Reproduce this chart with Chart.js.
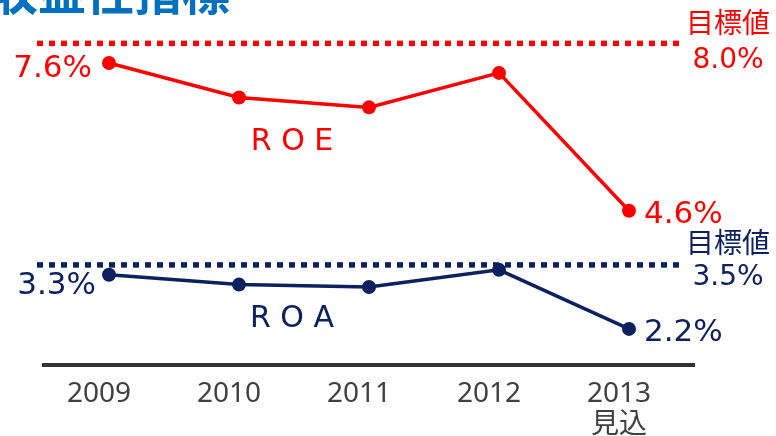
<!DOCTYPE html>
<html><head><meta charset="utf-8">
<script src="https://cdn.jsdelivr.net/npm/chart.js@4.4.1/dist/chart.umd.min.js"></script>
<style>html,body{margin:0;padding:0;background:#fff}#wrap{width:776px;height:436px;position:relative}</style>
</head><body><div id="wrap"><canvas id="c"></canvas></div>
<script>
const title = '収益性指標';
const categories = ['2009', '2010', '2011', '2012', ['2013', '見込']];
const seriesNames = ['ROE', 'ROA'];
const roeValues = [7.6, 6.9, 6.7, 7.4, 4.6];
const roaValues = [3.3, 3.1, 3.05, 3.4, 2.2];
const targetLabel = '目標値';
const roeTarget = 8.0;
const roaTarget = 3.5;

const RED = '#FF0000', NAVY = '#0B2160';
const fmt = v => v.toFixed(1) + '%';

const overlay = {
  id: 'overlay',
  beforeDatasetsDraw(chart) {
    const {ctx, chartArea: a, scales: {y}} = chart;
    [[roeTarget, RED], [roaTarget, NAVY]].forEach(([t, c]) => {
      const py = y.getPixelForValue(t);
      ctx.save();
      ctx.strokeStyle = c; ctx.lineWidth = 5.5; ctx.setLineDash([6, 6]); ctx.lineCap = 'butt';
      ctx.beginPath(); ctx.moveTo(a.left - 7, py); ctx.lineTo(a.right - 15, py); ctx.stroke();
      ctx.restore();
    });
  },
  afterDatasetsDraw(chart) {
    const {ctx, chartArea: a, scales: {x, y}} = chart;
    ctx.save();
    const big = '31px "DejaVu Sans", sans-serif';
    const mid = '28px "DejaVu Sans", "Noto Sans CJK JP", sans-serif';
    const cjk = '28px "Noto Sans CJK JP", sans-serif';
    function t(s, px, py, align, color, font) {
      ctx.font = font; ctx.fillStyle = color; ctx.textAlign = align; ctx.textBaseline = 'middle';
      ctx.fillText(s, px, py);
    }
    const last = roeValues.length - 1;
    // value labels
    t(fmt(roeValues[0]), x.getPixelForValue(0) - 17, y.getPixelForValue(roeValues[0]) + 6, 'right', RED, big);
    t(fmt(roeValues[last]), x.getPixelForValue(last) + 15, y.getPixelForValue(roeValues[last]) + 4, 'left', RED, big);
    t(fmt(roaValues[0]), x.getPixelForValue(0) - 13, y.getPixelForValue(roaValues[0]) + 11, 'right', NAVY, big);
    t(fmt(roaValues[last]), x.getPixelForValue(last) + 15, y.getPixelForValue(roaValues[last]) + 4, 'left', NAVY, big);
    // series names
    const nx = (x.getPixelForValue(1) + x.getPixelForValue(2)) / 2 - 12;
    t(seriesNames[0].split('').join(' '), nx, y.getPixelForValue(roeValues[1]) + 45, 'center', RED, '30px "DejaVu Sans", sans-serif');
    t(seriesNames[1].split('').join(' '), nx, y.getPixelForValue(roaValues[1]) + 35, 'center', NAVY, '30px "DejaVu Sans", sans-serif');
    // target labels
    const tx = a.right + 34;
    const ry = y.getPixelForValue(roeTarget), ay = y.getPixelForValue(roaTarget);
    t(targetLabel, tx, ry - 21, 'center', RED, cjk);
    t(fmt(roeTarget), tx, ry + 17, 'center', RED, mid);
    t(targetLabel, tx, ay - 23, 'center', NAVY, cjk);
    t(fmt(roaTarget), tx, ay + 13, 'center', NAVY, mid);
    // title (cut at top)
    ctx.font = 'bold 48px "Noto Sans CJK JP", sans-serif';
    ctx.fillStyle = '#0070C0'; ctx.textAlign = 'left'; ctx.textBaseline = 'alphabetic';
    ctx.fillText(title, -10, 10);
    ctx.restore();
  }
};

new Chart(document.getElementById('c'), {
  type: 'line',
  data: {
    labels: categories,
    datasets: [
      { label: seriesNames[0], data: roeValues, borderColor: RED, backgroundColor: RED,
        borderWidth: 3.5, pointRadius: 7, pointBorderWidth: 0, pointBackgroundColor: RED, tension: 0 },
      { label: seriesNames[1], data: roaValues, borderColor: NAVY, backgroundColor: NAVY,
        borderWidth: 3.5, pointRadius: 7, pointBorderWidth: 0, pointBackgroundColor: NAVY, tension: 0 }
    ]
  },
  options: {
    responsive: true, maintainAspectRatio: false, animation: false, devicePixelRatio: 1,
    layout: { autoPadding: false, padding: { left: 44, right: 82, top: 0, bottom: 0 } },
    plugins: { legend: { display: false }, tooltip: { enabled: false } },
    scales: {
      x: {
        offset: true,
        grid: { display: false, drawTicks: false },
        border: { display: true, color: '#333333', width: 4 },
        ticks: { color: '#404040', autoSkip: false, maxRotation: 0, padding: 14, labelOffset: -10,
          font: { family: '"Noto Sans", "Noto Sans CJK JP", sans-serif', size: 28, lineHeight: 1.1 } },
        afterFit(scale) { scale.height = 71; }
      },
      y: { display: false, min: 1.467, max: 8.881 }
    }
  },
  plugins: [overlay]
});
</script></body></html>
